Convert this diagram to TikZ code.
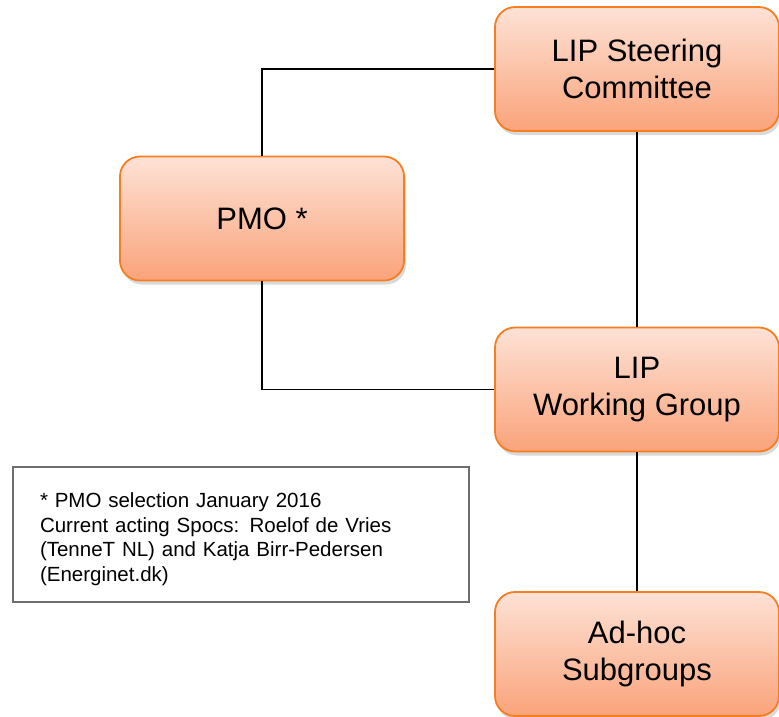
\documentclass[tikz,border=0pt]{standalone}
\usepackage{fontspec}
\setmainfont{Liberation Sans}
\usepackage{xcolor}
\usepackage{tikz}
\usetikzlibrary{shadows}
\definecolor{boxtop}{RGB}{253,226,214}
\definecolor{boxbottom}{RGB}{250,163,122}
\definecolor{boxedge}{RGB}{247,126,32}
\definecolor{noteedge}{RGB}{110,110,110}
\tikzset{
  orgbox/.style={draw=boxedge, line width=1.8pt, rounded corners=20pt,
    top color=boxtop, bottom color=boxbottom,
    minimum width=284pt, minimum height=124pt, inner sep=0pt,
    align=center, font=\fontsize{31}{37}\selectfont,
    drop shadow={shadow xshift=2pt, shadow yshift=-4pt, opacity=0.3}},
  notebox/.style={draw=noteedge, line width=1.3pt, fill=white,
    minimum width=456pt, minimum height=135pt, inner xsep=27pt,
    text width=402pt, align=left, font=\fontsize{20.5}{24.5}\selectfont},
  link/.style={draw=black, line width=1.2pt}
}

\begin{document}
\begin{tikzpicture}[x=1pt, y=-1pt]
  \useasboundingbox (0,0) rectangle (779,716);
  % boxes of the organisation
  \node[orgbox] (steer) at (637,69) {LIP Steering\\Committee};
  \node[orgbox] (pmo) at (262,218.5) {PMO *};
  \node[orgbox] (wg) at (637,389.5) {LIP\\Working Group};
  \node[orgbox] (adhoc) at (637,654) {Ad-hoc\\Subgroups};
  % footnote
  \node[notebox] (note) at (241,534.5) {\rule{0pt}{24pt}* PMO selection January 2016\\
    Current acting Spocs: Roelof de Vries\\
    (TenneT NL) and Katja Birr-Pedersen\\
    (Energinet.dk)};
  % connectors
  \draw[link] (steer.west) -| (pmo.north);
  \draw[link] (pmo.south) |- (wg.west);
  \draw[link] (steer.south) -- (wg.north);
  \draw[link] (wg.south) -- (adhoc.north);
\end{tikzpicture}
\end{document}
